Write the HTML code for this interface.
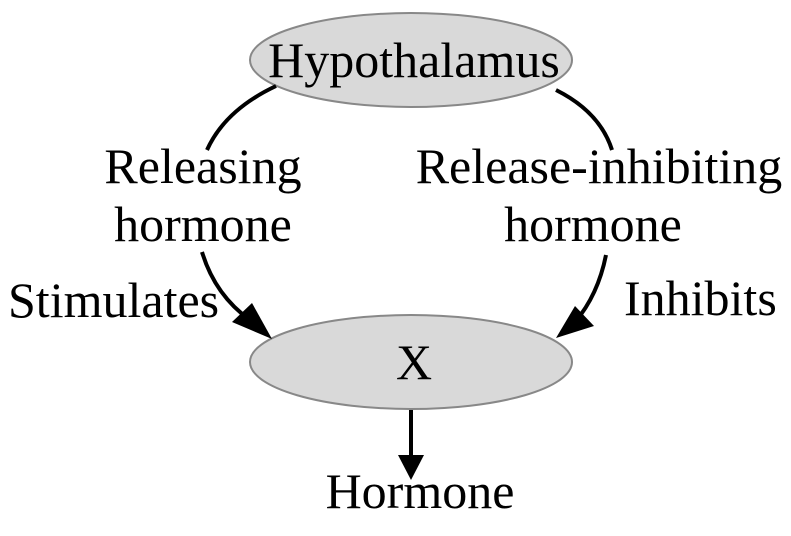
<!DOCTYPE html>
<html><head><style>
body{margin:0;background:#fff;}
svg text{font-family:"Liberation Serif",serif;font-size:50px;fill:#000;}
</style></head><body>
<svg width="791" height="531" viewBox="0 0 791 531" xmlns="http://www.w3.org/2000/svg">
<ellipse cx="411" cy="60" rx="161" ry="47" fill="#d9d9d9" stroke="#888" stroke-width="2"/>
<ellipse cx="411" cy="362" rx="161" ry="47" fill="#d9d9d9" stroke="#888" stroke-width="2"/>
<text x="414" y="77" text-anchor="middle">Hypothalamus</text>
<text x="414" y="379" text-anchor="middle">X</text>
<text x="420" y="508" text-anchor="middle">Hormone</text>
<text x="203" y="183" text-anchor="middle">Releasing</text>
<text x="203" y="241" text-anchor="middle">hormone</text>
<text x="599" y="183" text-anchor="middle">Release-inhibiting</text>
<text x="593" y="241" text-anchor="middle">hormone</text>
<text x="8" y="317">Stimulates</text>
<text x="624" y="315">Inhibits</text>
<g fill="none" stroke="#000" stroke-width="4">
<path d="M276 86 Q225 110 207 150"/>
<path d="M556 90 Q600 112 612 150"/>
<path d="M202 252 Q215 295 250 320"/>
<path d="M606 255 Q598 295 575 322"/>
<path d="M411 410 L411 460"/>
</g>
<g fill="#000">
<polygon points="272,339 232,322 252,303"/>
<polygon points="556,338 575,306 594,326"/>
<polygon points="411,480 398,455 424,455"/>
</g>
</svg>
</body></html>
